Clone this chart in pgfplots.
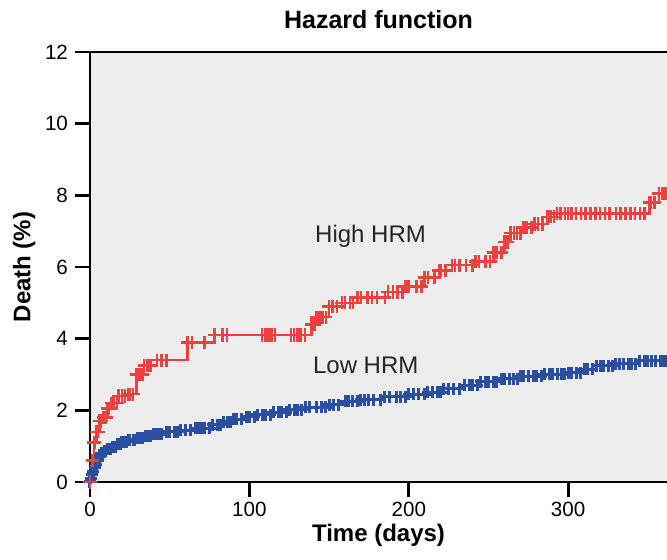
\documentclass[border=0pt]{standalone}
\usepackage{fontspec}
\setmainfont{Liberation Sans}
\usepackage{pgfplots}
\pgfplotsset{compat=1.18}
\usepackage{pgfplotstable}

\definecolor{hiRed}{RGB}{238,64,60}
\definecolor{loBlue}{RGB}{43,79,160}
\definecolor{bgGray}{RGB}{237,237,237}

% Low HRM: step points and censoring marks
\pgfplotstableread{
t    d
0    0
0.5  0.1
1    0.2
2    0.3
3    0.4
4    0.5
5    0.6
6    0.7
7    0.8
8    0.8
9    0.87
10   0.87
11   0.93
12   0.93
13   0.93
14   0.98
15   0.98
16   0.98
17   1.05
18   1.05
19   1.05
20   1.12
21   1.12
22   1.12
23   1.12
24   1.18
25   1.18
27   1.18
28   1.18
30   1.22
31   1.22
33   1.22
35   1.28
36   1.28
38   1.28
40   1.33
41   1.33
43   1.33
45   1.33
48   1.4
50   1.4
53   1.4
55   1.4
57   1.45
60   1.45
63   1.45
66   1.5
68   1.5
70   1.5
72   1.5
75   1.5
77   1.6
80   1.6
82   1.6
84   1.68
86   1.68
88   1.68
90   1.75
92   1.75
95   1.75
98   1.82
100  1.82
103  1.82
105  1.88
108  1.88
110  1.88
113  1.88
115  1.95
118  1.95
120  1.95
123  1.95
125  2.02
128  2.02
130  2.02
133  2.02
135  2.08
138  2.08
142  2.08
145  2.08
148  2.08
150  2.15
153  2.15
156  2.15
160  2.25
162  2.25
165  2.25
168  2.25
170  2.3
172  2.3
175  2.3
178  2.3
182  2.3
185  2.38
188  2.38
192  2.38
195  2.38
198  2.38
200  2.45
203  2.45
206  2.45
210  2.45
212  2.5
215  2.5
218  2.5
220  2.5
222  2.6
225  2.6
228  2.6
232  2.6
235  2.7
238  2.7
240  2.7
243  2.7
245  2.8
248  2.8
250  2.8
253  2.8
255  2.8
258  2.88
260  2.88
263  2.88
266  2.88
268  2.88
270  2.95
272  2.95
275  2.95
278  2.95
280  2.95
283  2.95
285  3.0
288  3.0
290  3.0
293  3.0
296  3.0
298  3.0
300  3.05
302  3.05
305  3.05
308  3.05
310  3.15
312  3.15
315  3.15
318  3.25
320  3.25
322  3.25
325  3.25
328  3.25
330  3.3
332  3.3
335  3.3
338  3.3
340  3.3
342  3.3
345  3.38
348  3.38
350  3.38
352  3.38
355  3.38
358  3.38
360  3.38
362  3.38
}\lowhrm

% High HRM
\pgfplotstableread{
t    d
0    0
1.5  0.6
2.5  1.1
3    1.1
4    1.4
5    1.4
6    1.7
7    1.7
8.5  1.8
9    1.8
10   1.8
11   2.05
12   2.05
13.5 2.2
15   2.2
17   2.2
18   2.4
20   2.4
22   2.4
24   2.45
25   2.45
27   2.45
29   3.0
31   3.0
33   3.0
34   3.25
36   3.25
38   3.25
42   3.4
45   3.4
48   3.4
61   3.9
64   3.9
72   3.9
78   4.1
83   4.1
86   4.1
108  4.1
110  4.1
112  4.1
114  4.1
116  4.1
126  4.1
128  4.1
130  4.1
132  4.1
135  4.1
139  4.4
141  4.4
142  4.6
144  4.6
146  4.6
148  4.6
150  4.9
152  4.9
155  4.9
158  5.0
160  5.0
163  5.0
165  5.0
168  5.15
170  5.15
174  5.15
177  5.15
180  5.15
185  5.15
187  5.3
190  5.3
193  5.3
196  5.3
198  5.45
200  5.45
205  5.45
208  5.45
210  5.7
212  5.7
216  5.7
219  5.9
220  5.9
223  5.9
227  6.05
229  6.05
232  6.05
236  6.05
240  6.05
242  6.15
244  6.15
248  6.15
251  6.15
253  6.4
255  6.4
258  6.4
260  6.7
262  6.7
264  6.95
266  6.95
268  6.95
270  6.95
272  7.1
274  7.1
277  7.1
279  7.2
281  7.2
284  7.2
287  7.4
289  7.4
291  7.4
293  7.5
295  7.5
298  7.5
300  7.5
302  7.5
305  7.5
308  7.5
311  7.5
314  7.5
317  7.5
320  7.5
323  7.5
326  7.5
330  7.5
333  7.5
336  7.5
339  7.5
342  7.5
345  7.5
348  7.5
351  7.8
352  7.8
354  7.8
357  8.05
359  8.05
361  8.05
}\highhrm

\begin{document}
\begin{tikzpicture}
\begin{axis}[
    scale only axis,
    width=288.5pt, height=215pt,
    xmin=0, xmax=362, ymin=0, ymax=12,
    xtick={0,100,200,300},
    ytick={0,2,...,12},
    axis x line*=bottom, axis y line*=left,
    axis line style={-, line width=1.4pt, black},
    tick align=outside,
    major tick length=7.5pt,
    tick style={line width=1.4pt, black},
    axis background/.style={fill=bgGray},
    /pgf/number format/assume math mode=true,
    tick label style={font=\fontsize{10.3}{12}\selectfont},
    xticklabel style={yshift=1pt},
    label style={font=\fontsize{12}{14}\selectfont\bfseries},
    title style={font=\fontsize{12.5}{15}\selectfont\bfseries, yshift=2pt},
    title={Hazard function},
    xlabel={Time (days)},
    ylabel={Death (\%)},
    xlabel style={yshift=3pt},
    ylabel style={yshift=-2pt},
    clip=true,
]
\draw[line width=1.4pt, black] (rel axis cs:0,1) -- (rel axis cs:1,1);
\addplot[const plot mark left, loBlue, line width=1.5pt,
    mark=+, mark size=3pt, mark options={line width=1.5pt}]
    table[x=t, y=d] {\lowhrm};
\addplot[const plot mark left, hiRed, line width=1.3pt,
    mark=+, mark size=3.3pt, mark options={line width=1.3pt}]
    table[x=t, y=d] {\highhrm};
\node[font=\fontsize{12}{14}\selectfont, text=black!85] at (axis cs:176,6.85) {High HRM};
\node[font=\fontsize{12}{14}\selectfont, text=black!85] at (axis cs:173,3.25) {Low HRM};
\end{axis}
\pgfresetboundingbox
\path[use as bounding box]
    ([xshift=-45pt, yshift=-39pt]current axis.south west)
    rectangle ([yshift=26pt]current axis.north east);
\end{tikzpicture}
\end{document}
